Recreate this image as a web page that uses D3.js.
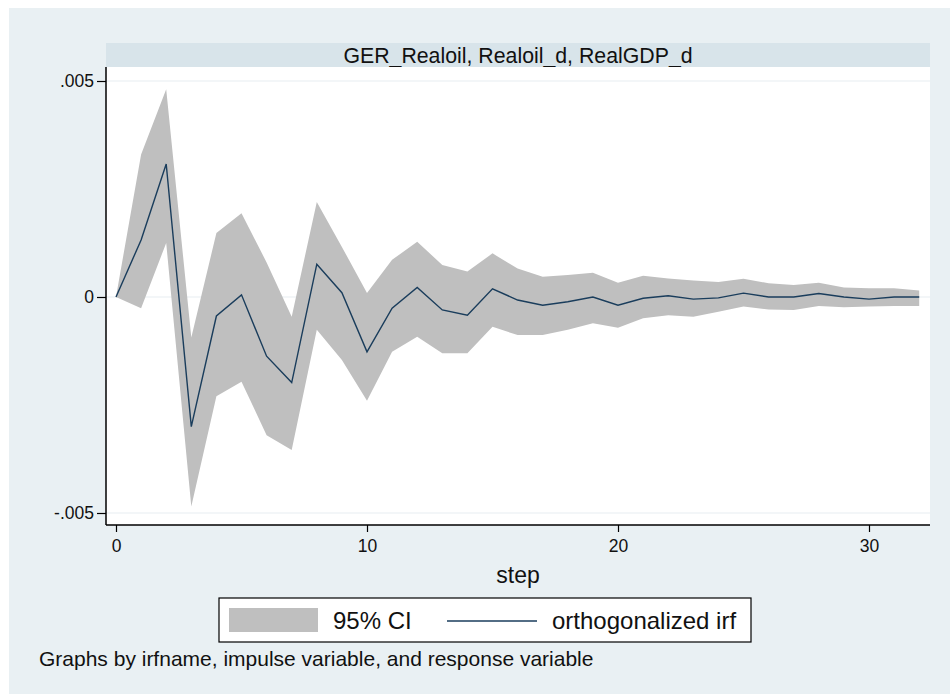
<!DOCTYPE html>
<html>
<head>
<meta charset="utf-8">
<script src="https://cdn.jsdelivr.net/npm/d3@7"></script>
<style>
  html, body { margin: 0; padding: 0; background: #ffffff; }
  svg { display: block; }
  text { font-family: "Liberation Sans", Arial, sans-serif; fill: #111; }
</style>
</head>
<body>
<svg id="chart" width="950" height="694"></svg>
<script>
// Impulse response: steps, orthogonalized irf and its 95% confidence band
const steps = [0, 1, 2, 3, 4, 5, 6, 7, 8, 9, 10, 11, 12, 13, 14, 15, 16,
               17, 18, 19, 20, 21, 22, 23, 24, 25, 26, 27, 28, 29, 30, 31, 32];
const oirf = [0, 0.00132, 0.00308, -0.0030, -0.00044, 0.00005, -0.00137, -0.00198,
              0.00076, 0.0001, -0.00127, -0.00026, 0.00022, -0.0003, -0.00042, 0.00019,
              -0.00007, -0.00019, -0.00011, 0.0, -0.00019, -0.00003, 0.00003, -0.00005,
              -0.00002, 0.00009, 0.0, 0.0, 0.00008, 0.0, -0.00005, 0.0, 0.0];
const ciUpper = [0, 0.0033, 0.00481, -0.00094, 0.00148, 0.00194, 0.0008, -0.00046,
                 0.0022, 0.00116, 0.00009, 0.00086, 0.00128, 0.00074, 0.00059, 0.00101,
                 0.00066, 0.00047, 0.00051, 0.00056, 0.00033, 0.00049, 0.00043, 0.00038,
                 0.00035, 0.00042, 0.00032, 0.00028, 0.00033, 0.00022, 0.0002, 0.0002, 0.00015];
const ciLower = [0, -0.00026, 0.00125, -0.00485, -0.0023, -0.00196, -0.0032, -0.00354,
                 -0.00076, -0.00146, -0.0024, -0.00127, -0.00092, -0.0013, -0.0013, -0.00069,
                 -0.00088, -0.00088, -0.00076, -0.00061, -0.00071, -0.00049, -0.00042, -0.00046,
                 -0.00034, -0.00022, -0.00029, -0.0003, -0.00021, -0.00024, -0.00022, -0.00021, -0.00021];

const yTicks = [-0.005, 0, 0.005];
const yTickLabels = ["-.005", "0", ".005"];
const xTicks = [0, 10, 20, 30];
const xTickLabels = ["0", "10", "20", "30"];

const panelTitle = "GER_Realoil, Realoil_d, RealGDP_d";
const xTitle = "step";
const legendLabels = ["95% CI", "orthogonalized irf"];
const note = "Graphs by irfname, impulse variable, and response variable";

const rows = steps.map((s, i) => ({ step: s, irf: oirf[i], lo: ciLower[i], hi: ciUpper[i] }));

const svg = d3.select("#chart");
const W = 950, H = 694;
const bandColor = "#bfbfbf";
const lineColor = "#1a3d5c";

// graph region
svg.append("rect").attr("x", 9).attr("y", 8).attr("width", W - 9).attr("height", H - 8)
  .attr("fill", "#e9f0f3");

// plot region bounds
const plot = { left: 106, right: 930, top: 67, bottom: 525 };

const x = d3.scaleLinear().domain([0, 30]).range([116, 869]);
const y = d3.scaleLinear().domain([-0.005, 0.005]).range([513, 81]);

// panel header strip
svg.append("rect").attr("x", plot.left).attr("y", 43).attr("width", plot.right - plot.left)
  .attr("height", plot.top - 43).attr("fill", "#d8e4ea");
svg.append("text").attr("x", (plot.left + plot.right) / 2).attr("y", 63)
  .attr("text-anchor", "middle").attr("font-size", 21.3).text(panelTitle);

// plot background
svg.append("rect").attr("x", plot.left).attr("y", plot.top).attr("width", plot.right - plot.left)
  .attr("height", plot.bottom - plot.top).attr("fill", "#ffffff");

// horizontal grid lines
svg.append("g").selectAll("line").data(yTicks).join("line")
  .attr("x1", plot.left).attr("x2", plot.right)
  .attr("y1", d => y(d)).attr("y2", d => y(d))
  .attr("stroke", "#e8eef1").attr("stroke-width", 1.2);

// confidence band
const area = d3.area().x(d => x(d.step)).y0(d => y(d.lo)).y1(d => y(d.hi));
svg.append("path").datum(rows).attr("d", area).attr("fill", bandColor);

// irf line
const line = d3.line().x(d => x(d.step)).y(d => y(d.irf));
svg.append("path").datum(rows).attr("d", line).attr("fill", "none")
  .attr("stroke", lineColor).attr("stroke-width", 1.4);

// axes
const yAxis = d3.axisLeft(y).tickValues(yTicks).tickSize(9).tickPadding(3)
  .tickFormat((d, i) => yTickLabels[i]);
const gy = svg.append("g").attr("transform", `translate(${plot.left},0)`).call(yAxis);
gy.select(".domain").attr("d", `M0,${plot.top}V${plot.bottom}`).attr("stroke", "#000").attr("stroke-width", 1.5);
gy.selectAll(".tick line").attr("stroke", "#000").attr("stroke-width", 1.2);
gy.selectAll(".tick text").attr("font-size", 17.5).attr("font-family", "Liberation Sans, Arial, sans-serif")
  .attr("fill", "#111");

const xAxis = d3.axisBottom(x).tickValues(xTicks).tickSize(7).tickPadding(8)
  .tickFormat((d, i) => xTickLabels[i]);
const gx = svg.append("g").attr("transform", `translate(0,${plot.bottom})`).call(xAxis);
gx.select(".domain").attr("d", `M${plot.left},0H${plot.right}`).attr("stroke", "#000").attr("stroke-width", 1.5);
gx.selectAll(".tick line").attr("stroke", "#000").attr("stroke-width", 1.2);
gx.selectAll(".tick text").attr("font-size", 17.5).attr("font-family", "Liberation Sans, Arial, sans-serif")
  .attr("fill", "#111");

// x-axis title
svg.append("text").attr("x", (plot.left + plot.right) / 2).attr("y", 583)
  .attr("text-anchor", "middle").attr("font-size", 23).text(xTitle);

// legend
const lg = svg.append("g");
lg.append("rect").attr("x", 219).attr("y", 598).attr("width", 532).attr("height", 44)
  .attr("fill", "#ffffff").attr("stroke", "#000").attr("stroke-width", 1.2);
lg.append("rect").attr("x", 229).attr("y", 608).attr("width", 89).attr("height", 24).attr("fill", bandColor);
lg.append("text").attr("x", 333).attr("y", 629).attr("font-size", 24).text(legendLabels[0]);
lg.append("line").attr("x1", 447).attr("x2", 537).attr("y1", 621).attr("y2", 621)
  .attr("stroke", lineColor).attr("stroke-width", 1.4);
lg.append("text").attr("x", 552).attr("y", 629).attr("font-size", 24).text(legendLabels[1]);

// note
svg.append("text").attr("x", 39).attr("y", 666).attr("font-size", 21).text(note);
</script>
</body>
</html>
